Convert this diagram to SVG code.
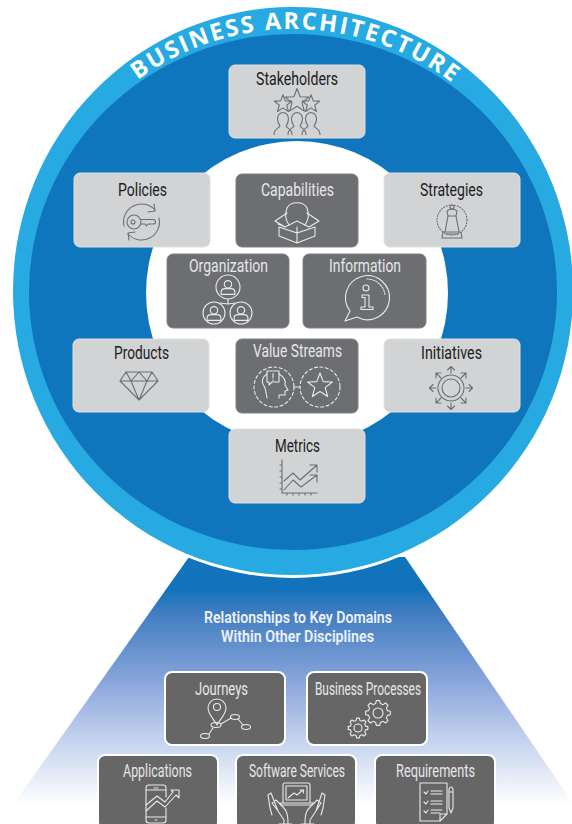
<svg xmlns="http://www.w3.org/2000/svg" xmlns:xlink="http://www.w3.org/1999/xlink" width="572" height="824" viewBox="0 0 572 824">
<style>
.lt{fill:#d1d3d4;stroke:#dfe0e1;stroke-width:1}
.dk{fill:#6d6e71;stroke:#808184;stroke-width:1}
.lo{fill:#666;stroke:#fff;stroke-width:2}
text{font-family:"Roboto","Liberation Sans",sans-serif;font-size:18px;text-anchor:middle}
.tb{fill:#1c1c1e}
.tw{fill:#e6e7e8}
.h{fill:#eef2fa;font-weight:600;font-size:16.5px}
.title{font-family:"Open Sans","Liberation Sans",sans-serif;font-weight:700;font-size:23.5px;fill:#fff;letter-spacing:2.2px;text-anchor:middle}
.id{fill:none;stroke:#6d6e71;stroke-width:1.1;stroke-linejoin:round;stroke-linecap:round}
.il{fill:none;stroke:#e9eaeb;stroke-width:1.1;stroke-linejoin:round;stroke-linecap:round}
.nss{vector-effect:non-scaling-stroke}
</style>
<defs>
<linearGradient id="fade" x1="0" y1="557" x2="0" y2="805" gradientUnits="userSpaceOnUse">
<stop offset="0" stop-color="#0f75bc"/><stop offset=".13" stop-color="#1272bb"/><stop offset=".22" stop-color="#3f7cc0"/><stop offset=".5" stop-color="#88a5da"/><stop offset=".74" stop-color="#c5d3ee"/><stop offset="1" stop-color="#fff"/>
</linearGradient>
<path id="arc" d="M293,553 A262,262 0 0 1 293,29 A262,262 0 0 1 293,553"/>
<path id="star" class="nss" d="M0,-10L2.47,-3.4L9.51,-3.09L4,1.3L5.88,8.09L0,4.2L-5.88,8.09L-4,1.3L-9.51,-3.09L-2.47,-3.4Z"/>
<path id="gear" class="nss" d="M-1.89,-7.57L-1.39,-9.9L1.39,-9.9L1.89,-7.57L4.02,-6.69L6.02,-7.99L7.99,-6.02L6.69,-4.02L7.57,-1.89L9.9,-1.39L9.9,1.39L7.57,1.89L6.69,4.02L7.99,6.02L6.02,7.99L4.02,6.69L1.89,7.57L1.39,9.9L-1.39,9.9L-1.89,7.57L-4.02,6.69L-6.02,7.99L-7.99,6.02L-6.69,4.02L-7.57,1.89L-9.9,1.39L-9.9,-1.39L-7.57,-1.89L-6.69,-4.02L-7.99,-6.02L-6.02,-7.99L-4.02,-6.69Z"/>
<path id="person" d="M-9,11C-9,5 -4,5 -3,2.500C-5,0 -5.500,-3 -5.500,-5A5.500,6 0 0 1 5.500,-5C5.500,-3 5,0 3,2.500C4,5 9,5 9,11"/>
<g id="bust"><circle class="nss" cx="0" cy="-3.200" r="3.200"/><path class="nss" d="M-6,5.500V3.500Q-6,0.500 -2.500,0.500H2.500Q6,0.500 6,3.500V5.500Z"/></g>
</defs>

<g id="funnel">
<path d="M189,557L405,557L572,802V824H2L2,824L15,802Z" fill="url(#fade)"/>
</g>
<g id="disc">
<ellipse cx="293" cy="292" rx="282" ry="286" fill="#fff"/>
<ellipse cx="293" cy="291" rx="280" ry="284" fill="#27aae1"/>
<ellipse cx="293" cy="292" rx="264" ry="258" fill="#0f75bc"/>
<ellipse cx="297" cy="293" rx="151" ry="152" fill="#fff"/>
<text class="title"><textPath href="#arc" startOffset="50.2%">BUSINESS ARCHITECTURE</textPath></text>
</g>

<g id="stakeholders">
<rect class="lt" x="229" y="65" width="136" height="73" rx="6"/>
<text class="tb" x="297" y="85" textLength="82" lengthAdjust="spacingAndGlyphs">Stakeholders</text>
<use href="#star" class="id" transform="translate(297,101) scale(1.250)"/>
<use href="#star" class="id" transform="translate(283,104) scale(.92)"/>
<use href="#star" class="id" transform="translate(311,104) scale(.92)"/>
<use href="#person" class="id" transform="translate(283,123.500)"/>
<use href="#person" class="id" transform="translate(297,123.500)"/>
<use href="#person" class="id" transform="translate(311,123.500)"/>
</g>

<g id="policies">
<rect class="lt" x="74" y="173" width="136" height="74" rx="6"/>
<text class="tb" x="142.500" y="196" textLength="49" lengthAdjust="spacingAndGlyphs">Policies</text>
<path class="id" d="M155,210A18,18 0 0 0 124,226M128,234A18,18 0 0 0 159,218"/>
<path class="id" d="M154,204L155,211L148,212M129,240L128,233L135,232"/>
<circle class="id" cx="134" cy="222" r="7"/>
<circle class="id" cx="133" cy="222" r="2"/>
<path class="id" d="M140.500,219.500H153Q155.500,219.500 155.500,222Q155.500,224 153,224H148L146.500,226L145,224H140.500"/>
</g>

<g id="capabilities">
<rect class="dk" x="236" y="174" width="122" height="73" rx="6"/>
<text class="tw" x="297.500" y="196" textLength="73" lengthAdjust="spacingAndGlyphs">Capabilities</text>
<path class="il" d="M289,225C285,219 285,213 287,208C290,201 304,201 307,208C309,213 309,219 305,225"/>
<path class="il" d="M287,213L275,221L285,227L297,221L309,227L319,221L307,213M285,227L278,224M279,227V236L297,243L315,236V227M297,227V243M279,227L297,233L315,227"/>
</g>

<g id="strategies">
<rect class="lt" x="384" y="173" width="136" height="74" rx="6"/>
<text class="tb" x="451.500" y="196" textLength="63" lengthAdjust="spacingAndGlyphs">Strategies</text>
<circle class="id" cx="452" cy="220" r="15" stroke-dasharray="1 1.800"/>
<circle class="id" cx="452" cy="207" r="2"/>
<path class="id" d="M447,211Q452,207 457,211L456,216H448ZM448,216L445,232H459L456,216M443,232H461L462,238H442Z"/>
<path class="id" d="M446,234H458"/>
</g>

<g id="organization">
<rect class="dk" x="167" y="254" width="122" height="74" rx="6"/>
<text class="tw" x="228.500" y="272" textLength="79" lengthAdjust="spacingAndGlyphs">Organization</text>
<circle class="il" cx="228" cy="287" r="12"/>
<circle class="il" cx="214" cy="313" r="11"/>
<circle class="il" cx="241" cy="313" r="11"/>
<use href="#bust" class="il" transform="translate(228,288) scale(1.150)"/>
<use href="#bust" class="il" transform="translate(214,314) scale(1.150)"/>
<use href="#bust" class="il" transform="translate(241,314) scale(1.150)"/>
<path class="il" d="M228,299V304M220,303L228,304L235,303"/>
</g>

<g id="information">
<rect class="dk" x="303" y="254" width="123" height="74" rx="6"/>
<text class="tw" x="365" y="272" textLength="72" lengthAdjust="spacingAndGlyphs">Information</text>
<path class="il" d="M345,321L350,311A22,22 0 1 1 357,317Z"/>
<path class="il" stroke-dasharray="1.500 1.500" d="M367,279A18,18 0 0 1 385,295"/>
<circle class="il" cx="366" cy="288" r="3"/>
<path class="il" d="M362,295H369V307H373V309.500H361V307H365V297.500H362Z"/>
</g>

<g id="products">
<rect class="lt" x="73" y="339" width="136" height="73" rx="6"/>
<text class="tb" x="141.500" y="359" textLength="55" lengthAdjust="spacingAndGlyphs">Products</text>
<path class="id" d="M126,372H152L158,381L139,400L120,381ZM120,381H158M131,381L139,400L147,381M126,372L131,381L139,372L147,381L152,372"/>
</g>

<g id="value-streams">
<rect class="dk" x="236" y="339" width="122" height="74" rx="6"/>
<text class="tw" x="297.500" y="357" textLength="89" lengthAdjust="spacingAndGlyphs">Value Streams</text>
<circle class="il" cx="274" cy="387" r="20" stroke-dasharray="3 2.500"/>
<circle class="il" cx="320" cy="387" r="20" stroke-dasharray="3 2.500"/>
<path class="il" d="M294,387H300"/>
<path class="il" d="M267,371H279V382H272L269,385V382H267Z"/>
<path class="il" d="M273,373.500V378M273,380V380.500"/>
<path class="il" d="M267,374C262,377 261,382 264,386C266,389 266,393 267,398M279,374C284,377 286,381 285,385L288,390L285,391V395H279V398"/>
<use href="#star" class="il" transform="translate(320,386) scale(1.300)"/>
</g>

<g id="initiatives">
<rect class="lt" x="384" y="339" width="136" height="73" rx="6"/>
<text class="tb" x="451.500" y="359" textLength="61" lengthAdjust="spacingAndGlyphs">Initiatives</text>
<circle class="id" cx="451" cy="388" r="13" stroke-width="1.300"/>
<circle class="id" cx="451" cy="388" r="9" stroke-width="1.300"/>
<g class="id" stroke-width="1.400">
<path d="M451,373V367M447.500,370L451,366.500L454.500,370"/>
<path d="M451,403V409M447.500,406L451,409.500L454.500,406"/>
<path d="M436,388H430M433,384.500L429.500,388L433,391.500"/>
<path d="M466,388H472M469,384.500L472.500,388L469,391.500"/>
<path d="M441,378L436,373M436,378V373H441"/>
<path d="M461,378L466,373M461,373H466V378"/>
<path d="M441,398L436,403M436,398V403H441"/>
<path d="M461,398L466,403M466,398V403H461"/>
</g>
</g>

<g id="metrics">
<rect class="lt" x="229" y="429" width="136" height="74" rx="6"/>
<text class="tb" x="297.500" y="452" textLength="45" lengthAdjust="spacingAndGlyphs">Metrics</text>
<path class="id" d="M282,460V493H317M280,465H282M280,471H282M280,477H282M280,483H282M280,489H282M287,493V495M293,493V495M299,493V495M305,493V495M311,493V495"/>
<path class="id" d="M284,481L293,473L300,480L317,465M310,465H317V472"/>
<path class="id" d="M284,490L293,480L301,487L317,475M310,475H317V482"/>
</g>

<g id="relationships-heading">
<text class="h" x="298" y="623" textLength="188" lengthAdjust="spacingAndGlyphs">Relationships to Key Domains</text>
<text class="h" x="297.500" y="642" textLength="153" lengthAdjust="spacingAndGlyphs">Within Other Disciplines</text>
</g>

<g id="journeys">
<rect class="lo" x="165" y="672" width="120" height="73" rx="7"/>
<text class="tw" x="221.500" y="695" textLength="53" lengthAdjust="spacingAndGlyphs">Journeys</text>
<path class="il" d="M217,725C213,718 208,714 208,708A9,9 0 0 1 226,708C226,714 221,718 217,725Z"/>
<circle class="il" cx="217" cy="707" r="3.500"/>
<ellipse class="il" cx="216" cy="725" rx="5" ry="2.500"/>
<ellipse class="il" cx="235" cy="717" rx="4.500" ry="2.500"/>
<ellipse class="il" cx="246" cy="727" rx="4.500" ry="2.500"/>
<ellipse class="il" cx="205" cy="736" rx="4.500" ry="2.500"/>
<path class="il" d="M209,734L213,728M221,724L231,718M238,719L243,725"/>
</g>

<g id="business-processes">
<rect class="lo" x="307" y="672" width="120" height="73" rx="7"/>
<text class="tw" x="368" y="695" textLength="106" lengthAdjust="spacingAndGlyphs">Business Processes</text>
<use href="#gear" class="il" transform="translate(378,713) scale(1.250)"/>
<circle class="il" cx="378" cy="713" r="5"/>
<use href="#gear" class="il" transform="translate(358,728) scale(1)"/>
<circle class="il" cx="358" cy="728" r="4"/>
</g>

<g id="applications">
<rect class="lo" x="98" y="755" width="120" height="74" rx="7"/>
<text class="tw" x="157.500" y="777" textLength="69" lengthAdjust="spacingAndGlyphs">Applications</text>
<path class="il" d="M166,797V788Q166,785 163,785H149Q146,785 146,788V820Q146,823 149,823H163Q166,823 166,820V808M146,790H166M146,817H166M154,788H158M155,820H157"/>
<path class="il" d="M146,811L157,801L165,807L176,795L179,798V790H171L173,792L165,802L157,796L146,805"/>
</g>

<g id="software-services">
<rect class="lo" x="236" y="755" width="120" height="74" rx="7"/>
<text class="tw" x="297" y="777" textLength="96" lengthAdjust="spacingAndGlyphs">Software Services</text>
<path class="il" d="M283,802V785Q283,783 285,783H308Q310,783 310,785V802M286,786H307V800H286ZM280,803H313Q313,805 311,805H282Q280,805 280,803Z"/>
<path class="il" d="M288,798L294,793L297,795L303,790M300,790H303.500V793"/>
<path class="il" d="M284,824V820L278,811L271,793L268,795L270,808L272,815M278,811L272,803L276,800L283,807C287,811 288,815 288,824M279,824H292"/>
<path class="il" d="M310,824V820L316,811L322,793L325,795L323,808L321,815M316,811L321,803L317,800L310,807C306,811 305,815 305,824M301,824H314"/>
</g>

<g id="requirements">
<rect class="lo" x="375" y="755" width="120" height="74" rx="7"/>
<text class="tw" x="435.500" y="777" textLength="79" lengthAdjust="spacingAndGlyphs">Requirements</text>
<path class="il" d="M420,783H447V814L440,821H420ZM447,814H440V821"/>
<path class="il" d="M424,792L426,794L428,791M431,791H442M431,794H442M424,802L426,804L428,801M431,801H442M431,804H442M424,811L426,813L428,810M431,810H442M431,813H440"/>
<path class="il" d="M449,789Q451,785 453,789V808L451,813L449,808ZM449,792H453"/>
</g>
</svg>
